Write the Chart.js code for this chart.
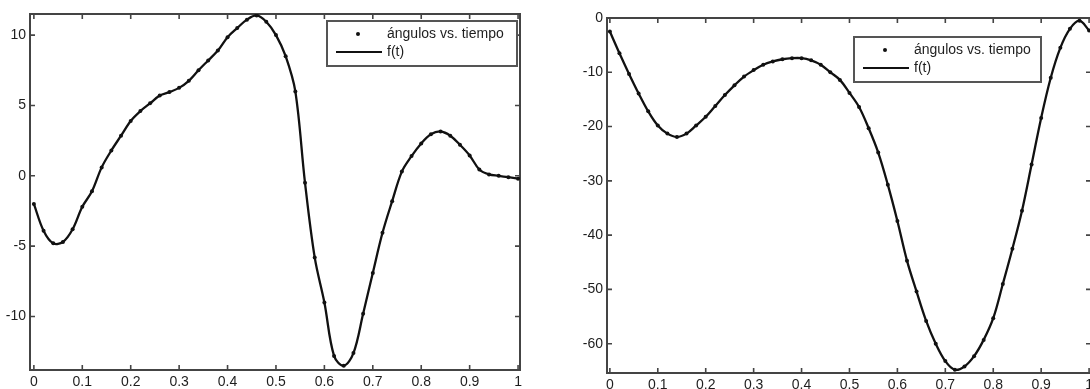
<!DOCTYPE html>
<html>
<head>
<meta charset="utf-8">
<script src="https://cdn.jsdelivr.net/npm/chart.js@4/dist/chart.umd.min.js"></script>
<style>
    html, body { margin: 0; padding: 0; background: #fff; width: 1090px; height: 389px; overflow: hidden; }
    #chart { position: absolute; left: 0; top: 0; }
    #chart2 { position: absolute; left: 545px; top: 0; }
</style>
</head>
<body>
<canvas id="chart" width="545" height="389"></canvas>
<canvas id="chart2" width="560" height="389"></canvas>
<script>
var tiempo = [0, 0.02, 0.04, 0.06, 0.08, 0.10, 0.12, 0.14, 0.16, 0.18,
    0.20, 0.22, 0.24, 0.26, 0.28, 0.30, 0.32, 0.34, 0.36, 0.38,
    0.40, 0.42, 0.44, 0.46, 0.48, 0.50, 0.52, 0.54, 0.56, 0.58,
    0.60, 0.62, 0.64, 0.66, 0.68, 0.70, 0.72, 0.74, 0.76, 0.78,
    0.80, 0.82, 0.84, 0.86, 0.88, 0.90, 0.92, 0.94, 0.96, 0.98, 1.00];

var angulos1 = [-2.0, -3.9, -4.8, -4.7, -3.8, -2.2, -1.1, 0.6, 1.8, 2.85,
    3.9, 4.6, 5.15, 5.7, 5.95, 6.25, 6.75, 7.5, 8.2, 8.9,
    9.85, 10.5, 11.1, 11.4, 10.95, 10.0, 8.5, 6.0, -0.5, -5.8,
    -9.0, -12.8, -13.5, -12.6, -9.8, -6.9, -4.05, -1.8, 0.3, 1.4,
    2.3, 2.95, 3.15, 2.85, 2.2, 1.45, 0.45, 0.1, 0.0, -0.1, -0.2];

var angulos2 = [-2.5, -6.5, -10.3, -13.9, -17.2, -19.8, -21.3, -21.9, -21.3, -19.8,
    -18.2, -16.2, -14.2, -12.4, -10.8, -9.6, -8.6, -8.0, -7.6, -7.4,
    -7.4, -7.8, -8.6, -10.0, -11.4, -13.8, -16.4, -20.3, -24.8, -30.7,
    -37.4, -44.7, -50.4, -55.8, -60.0, -63.2, -64.8, -64.2, -62.3, -59.3,
    -55.3, -49.0, -42.5, -35.5, -27.0, -18.4, -11.0, -5.5, -2.0, -0.5, -2.3];

var ticksX = [0, 0.1, 0.2, 0.3, 0.4, 0.5, 0.6, 0.7, 0.8, 0.9, 1];
var ticksY1 = [-10, -5, 0, 5, 10];
var ticksY2 = [-60, -50, -40, -30, -20, -10, 0];

var etiquetaPuntos = 'ángulos vs. tiempo';
var etiquetaAjuste = 'f(t)';

Chart.defaults.font.family = "'Liberation Sans', Arial, sans-serif";
Chart.defaults.font.size = 14;
Chart.defaults.color = '#1e1e1e';

// marco tipo matlab: caja, marcas hacia dentro y leyenda dentro del area
var marcoMatlab = {
    id: 'marcoMatlab',
    beforeDatasetsDraw: function (chart) {
        var ctx = chart.ctx, a = chart.chartArea;
        var sx = chart.scales.x, sy = chart.scales.y;
        ctx.save();
        ctx.strokeStyle = '#444';
        ctx.lineWidth = 1.6;
        ctx.beginPath();
        sx.ticks.forEach(function (t) {
            var px = sx.getPixelForValue(t.value);
            ctx.moveTo(px, a.bottom); ctx.lineTo(px, a.bottom - 5);
            ctx.moveTo(px, a.top); ctx.lineTo(px, a.top + 5);
        });
        sy.ticks.forEach(function (t) {
            var py = sy.getPixelForValue(t.value);
            ctx.moveTo(a.left, py); ctx.lineTo(a.left + 5, py);
            ctx.moveTo(a.right, py); ctx.lineTo(a.right - 5, py);
        });
        ctx.stroke();
        ctx.lineWidth = 2;
        ctx.strokeRect(a.left, a.top, a.right - a.left, a.bottom - a.top);
        ctx.restore();
    },
    afterDraw: function (chart, args, opts) {
        var ctx = chart.ctx, b = opts.caja;
        var ds = chart.data.datasets;
        ctx.save();
        ctx.fillStyle = '#fff';
        ctx.fillRect(b.x, b.y, b.w, b.h);
        ctx.strokeStyle = '#555';
        ctx.lineWidth = 2;
        ctx.strokeRect(b.x, b.y, b.w, b.h);
        ctx.fillStyle = '#111';
        ctx.beginPath();
        ctx.arc(b.x + 31, b.y + 13, 2, 0, Math.PI * 2);
        ctx.fill();
        ctx.strokeStyle = '#111';
        ctx.beginPath();
        ctx.moveTo(b.x + 9, b.y + 31);
        ctx.lineTo(b.x + 55, b.y + 31);
        ctx.stroke();
        ctx.font = "14px 'Liberation Sans', Arial, sans-serif";
        ctx.fillStyle = '#1e1e1e';
        ctx.textBaseline = 'middle';
        ctx.fillText(ds[0].label, b.x + 60, b.y + 13);
        ctx.fillText(ds[1].label, b.x + 60, b.y + 31);
        ctx.restore();
    }
};

function puntos(valores) {
    return tiempo.map(function (t, i) {
        return { x: t, y: valores[i] };
    });
}

function crearGrafica(id, valores, ticksY, rango, area, caja) {
    var canvas = document.getElementById(id).getContext('2d');
    return new Chart(canvas, {
        type: 'scatter',
        data: {
            datasets: [{
                    label: etiquetaPuntos,
                    data: puntos(valores),
                    showLine: false,
                    pointRadius: 2,
                    pointBorderWidth: 0,
                    backgroundColor: '#111'
                },
                {
                    label: etiquetaAjuste,
                    data: puntos(valores),
                    showLine: true,
                    pointRadius: 0,
                    borderColor: '#111',
                    borderWidth: 2.3,
                    tension: 0.35
                }
            ]
        },
        options: {
            responsive: false,
            animation: false,
            layout: {
                padding: { left: 0, top: area.top, right: area.right, bottom: 0 }
            },
            plugins: {
                legend: { display: false },
                tooltip: { enabled: false },
                marcoMatlab: { caja: caja }
            },
            scales: {
                x: {
                    type: 'linear',
                    min: rango.x0,
                    max: rango.x1,
                    grid: { display: false, drawTicks: false },
                    border: { display: false },
                    afterBuildTicks: function (s) {
                        s.ticks = ticksX.map(function (v) { return { value: v }; });
                    },
                    afterFit: function (s) { s.height = area.bottom; },
                    ticks: {
                        padding: 4,
                        maxRotation: 0,
                        autoSkip: false,
                        callback: function (v) { return String(v); }
                    }
                },
                y: {
                    min: rango.y0,
                    max: rango.y1,
                    grid: { display: false, drawTicks: false },
                    border: { display: false },
                    afterBuildTicks: function (s) {
                        s.ticks = ticksY.map(function (v) { return { value: v }; });
                    },
                    afterFit: function (s) { s.width = area.left; },
                    ticks: {
                        padding: 4,
                        autoSkip: false,
                        callback: function (v) { return String(v); }
                    }
                }
            }
        },
        plugins: [marcoMatlab]
    });
}

crearGrafica('chart', angulos1, ticksY1,
    { x0: -0.008, x1: 1.004, y0: -13.8, y1: 11.5 },
    { left: 30, right: 25, top: 14, bottom: 19 },
    { x: 327, y: 21, w: 190, h: 45 });

crearGrafica('chart2', angulos2, ticksY2,
    { x0: -0.006, x1: 1.004, y0: -65.4, y1: 0 },
    { left: 62, right: 14, top: 18, bottom: 16 },
    { x: 309, y: 37, w: 187, h: 45 });
</script>
</body>
</html>
